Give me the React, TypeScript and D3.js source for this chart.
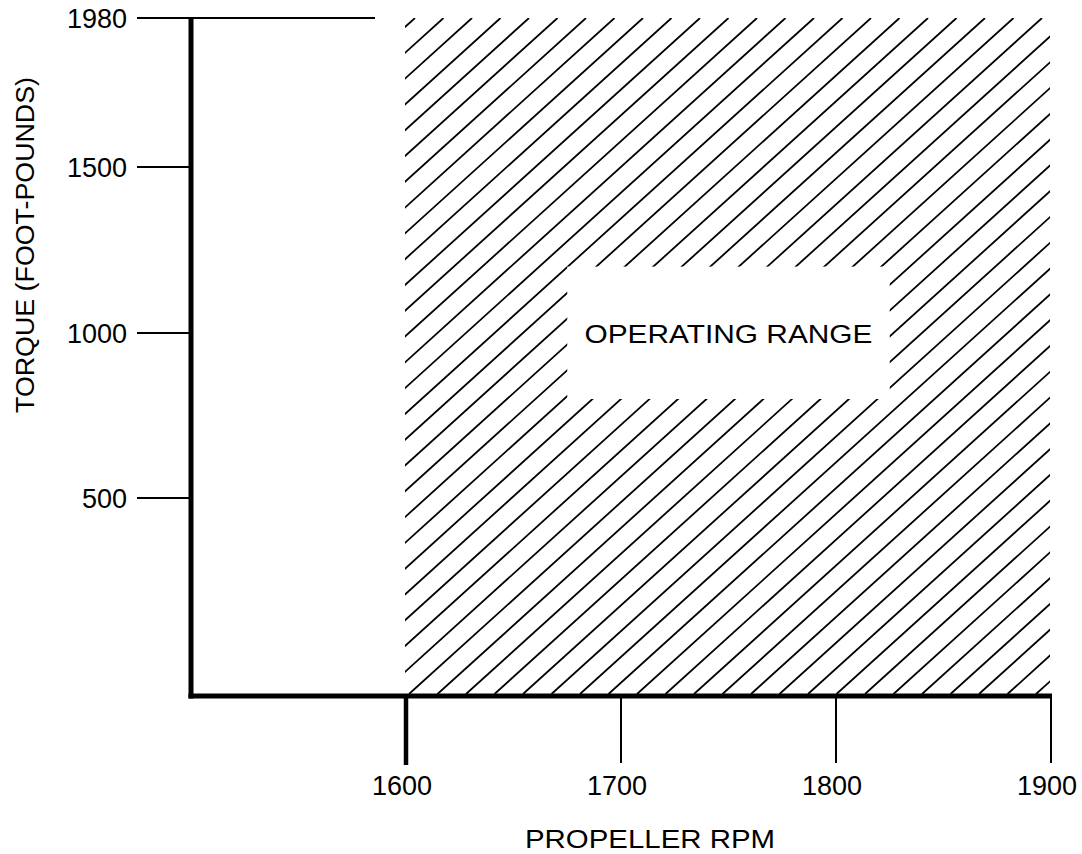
import React from "react";
import * as d3 from "d3";

const xTicks = [1600, 1700, 1800, 1900];
const yTicks = [500, 1000, 1500, 1980];
const yDomainStops = [0, 500, 1000, 1500, 1980];
const rangeX = [1600, 1900];
const rangeY = [0, 1980];
const labelBoxX = [1675, 1825];
const labelBoxY = [800, 1200];
const xDomain = [1500, 1900];
const labels = { x: "PROPELLER RPM", y: "TORQUE (FOOT-POUNDS)", region: "OPERATING RANGE" };

const W = 1082;
const H = 854;
const FONT = "'Liberation Sans', Arial, Helvetica, sans-serif";

export default function App() {
  const x = d3.scaleLinear().domain(xDomain).range([191, 1051]);
  const y = d3.scaleLinear().domain(yDomainStops).range([696, 498, 333, 167, 18]);

  const hx0 = x(rangeX[0]) - 1;
  const hx1 = x(rangeX[1]) - 1;
  const hy0 = y(rangeY[1]);
  const hy1 = y(rangeY[0]) - 2;

  const slope = 0.905;
  const spacing = 28.5;
  const topStart = 415;
  const lines: [number, number, number, number][] = [];
  const hgt = hy1 - hy0;
  for (let k = -40; k < 80; k++) {
    const xt = topStart + spacing * k;
    const xb = xt - hgt / slope;
    if (xt < hx0 - 5) continue;
    if (xb > hx1 + 5) continue;
    lines.push([xt, hy0, xb, hy1]);
  }

  const bx0 = x(labelBoxX[0]);
  const bx1 = x(labelBoxX[1]);
  const by0 = y(labelBoxY[1]);
  const by1 = y(labelBoxY[0]);

  return (
    <svg width={W} height={H} style={{ position: "absolute", left: 0, top: 0, background: "#fff" }}>
      <defs>
        <clipPath id="hatchClip">
          <rect x={hx0} y={hy0} width={hx1 - hx0} height={hy1 - hy0} />
        </clipPath>
      </defs>
      <g clipPath="url(#hatchClip)">
        {lines.map((l, i) => (
          <line key={i} x1={l[0]} y1={l[1]} x2={l[2]} y2={l[3]} stroke="#000" strokeWidth={1.8} />
        ))}
      </g>
      <rect x={bx0} y={by0} width={bx1 - bx0} height={by1 - by0} fill="#fff" />
      <text
        x={x((labelBoxX[0] + labelBoxX[1]) / 2)}
        y={y((labelBoxY[0] + labelBoxY[1]) / 2) + 10}
        textAnchor="middle"
        fontFamily={FONT}
        fontSize={26}
        textLength={288}
        lengthAdjust="spacingAndGlyphs"
        fill="#000"
      >
        {labels.region}
      </text>

      {/* y ticks */}
      {yTicks.map((t) => (
        <g key={t}>
          <line
            x1={137}
            x2={t === 1980 ? 375 : 190}
            y1={y(t)}
            y2={y(t)}
            stroke="#000"
            strokeWidth={2}
          />
          <text x={127} y={y(t) + 9.5} textAnchor="end" fontFamily={FONT} fontSize={27} fill="#000">
            {t}
          </text>
        </g>
      ))}

      {/* x ticks */}
      {xTicks.map((t) => (
        <g key={t}>
          <line
            x1={x(t)}
            x2={x(t)}
            y1={y(0)}
            y2={t === 1600 ? 765 : 763}
            stroke="#000"
            strokeWidth={t === 1600 ? 4.5 : 2}
          />
          <text x={x(t) - 4} y={795} textAnchor="middle" fontFamily={FONT} fontSize={27} fill="#000">
            {t}
          </text>
        </g>
      ))}

      {/* axes */}
      <line x1={x(xDomain[0])} x2={x(xDomain[0])} y1={17} y2={698.5} stroke="#000" strokeWidth={5} />
      <line x1={188.5} x2={1052} y1={y(0)} y2={y(0)} stroke="#000" strokeWidth={5} />

      <text
        x={650}
        y={848}
        textAnchor="middle"
        fontFamily={FONT}
        fontSize={26}
        textLength={250}
        lengthAdjust="spacingAndGlyphs"
        fill="#000"
      >
        {labels.x}
      </text>
      <text
        transform={`translate(34,245) rotate(-90)`}
        textAnchor="middle"
        fontFamily={FONT}
        fontSize={26}
        textLength={336}
        lengthAdjust="spacingAndGlyphs"
        fill="#000"
      >
        {labels.y}
      </text>
    </svg>
  );
}
